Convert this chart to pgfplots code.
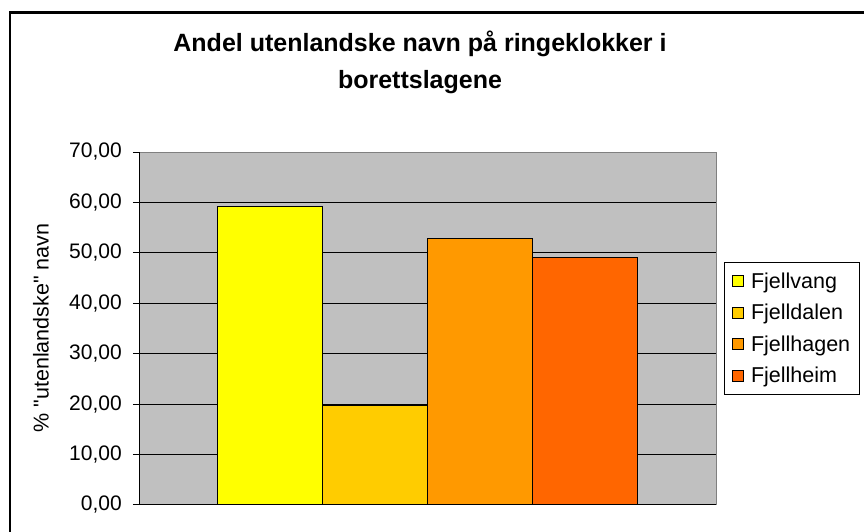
\documentclass[border=0pt]{standalone}
\usepackage{fontspec}
\setmainfont{Liberation Sans}[Ligatures=TeXOff]
\usepackage{pgfplots}
\pgfplotsset{compat=1.18}
\definecolor{plotbg}{HTML}{C0C0C0}
\definecolor{cA}{HTML}{FFFF00}
\definecolor{cB}{HTML}{FFCC00}
\definecolor{cC}{HTML}{FF9900}
\definecolor{cD}{HTML}{FF6600}
\definecolor{frameg}{HTML}{808080}
\begin{document}
\begin{tikzpicture}
\useasboundingbox (0pt,0pt) rectangle (864pt,532pt);
\fill[white] (0pt,0pt) rectangle (864pt,532pt);
\draw[line width=2.5pt] (10pt,-10pt) -- (10pt,519.5pt) -- (880pt,519.5pt);
\node[font=\fontsize{25}{30}\selectfont\bfseries, anchor=base] at (420pt,480pt) {Andel utenlandske navn på ringeklokker i};
\node[font=\fontsize{25}{30}\selectfont\bfseries, anchor=base] at (420pt,443pt) {borettslagene};
\begin{axis}[
  at={(139pt,27pt)}, anchor=south west,
  scale only axis, width=577pt, height=353pt,
  xmin=-1, xmax=1, ymin=0, ymax=70,
  ytick={0,10,...,70}, xtick=\empty,
  ybar=0pt, bar width=105pt,
  axis background/.style={fill=plotbg},
  axis line style={draw=frameg, line width=1pt},
  ymajorgrids, grid style={black, line width=1pt},
  tick style={black, line width=1pt}, major tick length=6pt, tick align=outside, ytick pos=left,
  yticklabel style={font=\fontsize{21}{24}\selectfont, inner sep=0pt, xshift=-11pt},
  /pgf/number format/fixed, /pgf/number format/fixed zerofill, /pgf/number format/precision=2,
  /pgf/number format/use comma, /pgf/number format/assume math mode=true,
  ylabel={\% "utenlandske" navn},
  ylabel style={at={(-0.1698,0.5014)}, anchor=center, font=\fontsize{21.5}{24}\selectfont},
  legend style={at={(1.01386,0.6884)}, anchor=north west, draw=black, line width=1pt,
    font=\fontsize{21.5}{24}\selectfont, row sep=10.5pt, inner xsep=7pt, inner ysep=8pt,
    cells={anchor=west}},
  legend image code/.code={\draw[#1, draw=black, line width=1pt] (0pt,-5.5pt) rectangle (11pt,5.5pt);
    \path[draw=none, fill=none] (0pt,0pt) -- (17pt,0pt);},
]
\addplot[fill=cA, draw=black, line width=1pt] coordinates {(0,59.2)};
\addplot[fill=cB, draw=black, line width=1pt] coordinates {(0,19.8)};
\addplot[fill=cC, draw=black, line width=1pt] coordinates {(0,52.9)};
\addplot[fill=cD, draw=black, line width=1pt] coordinates {(0,49.1)};
\legend{Fjellvang,Fjelldalen,Fjellhagen,Fjellheim}
\draw[black, line width=1pt] (rel axis cs:0,1) -- (rel axis cs:0,0) -- (rel axis cs:1,0);
\end{axis}
\end{tikzpicture}
\end{document}
